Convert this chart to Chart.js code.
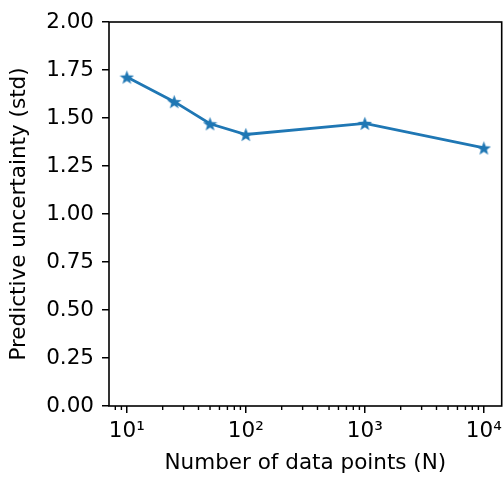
<!DOCTYPE html>
<html>
<head>
<meta charset="utf-8">
<script src="https://cdn.jsdelivr.net/npm/chart.js@4/dist/chart.umd.min.js"></script>
<style>
  html, body { margin: 0; padding: 0; background: #fff; overflow: hidden; }
  /* the layout keeps ~10px spare at the right, so the box is a bit wider than the window */
  #wrap { width: 512px; height: 482px; }
</style>
</head>
<body>
<div id="wrap"><canvas id="chart"></canvas></div>
<script>
var nPoints = [10, 25, 50, 100, 1000, 10000];
var uncertainty = [1.713, 1.585, 1.470, 1.414, 1.472, 1.344];
var xMajorTicks = [10, 100, 1000, 10000];
var xTickLabels = ['10\u00b9', '10\u00b2', '10\u00b3', '10\u2074'];

var lineColor = '#1f77b4',
  fontFamily = 'DejaVu Sans',
  fontSize = 21.5;

// filled five-point star like matplotlib's '*' marker
function makeStar(size) {
  var c = document.createElement('canvas');
  c.width = size;
  c.height = size;
  var ctx = c.getContext('2d'),
    cx = size / 2,
    cy = size / 2 + 0.7,
    outer = size / 2,
    inner = outer * 0.42;
  ctx.beginPath();
  for (var i = 0; i < 10; i += 1) {
    var r = i % 2 === 0 ? outer : inner,
      a = -Math.PI / 2 + i * Math.PI / 5;
    ctx.lineTo(cx + r * Math.cos(a), cy + r * Math.sin(a));
  }
  ctx.closePath();
  ctx.fillStyle = lineColor;
  ctx.fill();
  return c;
}

function noPad(s) {
  s.paddingLeft = 0;
  s.paddingRight = 0;
  s.paddingTop = 0;
  s.paddingBottom = 0;
}

var frameAndMinor = {
  id: 'frameAndMinor',
  afterDraw: function (chart) {
    var ctx = chart.ctx,
      a = chart.chartArea,
      xs = chart.scales.x;
    ctx.save();
    ctx.strokeStyle = '#000';
    ctx.lineWidth = 1.4;
    // minor log ticks
    for (var e = 0; e < 5; e += 1) {
      for (var m = 2; m < 10; m += 1) {
        var v = m * Math.pow(10, e);
        if (v < xs.min || v > xs.max) continue;
        var px = xs.getPixelForValue(v);
        ctx.beginPath();
        ctx.moveTo(px, a.bottom);
        ctx.lineTo(px, a.bottom + 4);
        ctx.stroke();
      }
    }
    ctx.lineWidth = 1.6;
    ctx.strokeRect(a.left, a.top, a.right - a.left, a.bottom - a.top);
    ctx.restore();
  }
};

new Chart(document.getElementById('chart'), {
  type: 'line',
  data: {
    labels: nPoints,
    datasets: [{
      data: nPoints.map(function (n, i) { return { x: n, y: uncertainty[i] }; }),
      borderColor: lineColor,
      backgroundColor: lineColor,
      borderWidth: 2.8,
      pointStyle: makeStar(15),
      pointRadius: 7.5,
      fill: false,
      tension: 0
    }]
  },
  options: {
    responsive: true,
    maintainAspectRatio: false,
    animation: false,
    layout: { padding: { top: 22, right: 1, left: 0, bottom: 0 } },
    plugins: { legend: { display: false }, tooltip: { enabled: false } },
    scales: {
      x: {
        type: 'logarithmic',
        min: Math.pow(10, 0.85),
        max: Math.pow(10, 4.15),
        afterBuildTicks: function (s) {
          s.ticks = xMajorTicks.map(function (v) { return { value: v }; });
        },
        afterFit: function (s) { s.height = 76; noPad(s); },
        border: { display: false },
        grid: { display: true, drawOnChartArea: false, drawTicks: true, tickLength: 7, color: '#000', lineWidth: 1.5 },
        ticks: {
          color: '#000',
          padding: 6,
          maxRotation: 0,
          autoSkip: false,
          font: { family: fontFamily, size: fontSize },
          callback: function (v) {
            var i = xMajorTicks.indexOf(v);
            return i >= 0 ? xTickLabels[i] : '';
          }
        },
        title: {
          display: true,
          text: 'Number of data points (N)',
          color: '#000',
          font: { family: fontFamily, size: fontSize },
          padding: { top: 0, bottom: 6 }
        }
      },
      y: {
        min: 0,
        max: 2,
        afterFit: function (s) { s.width = 109; noPad(s); },
        border: { display: false },
        grid: { display: true, drawOnChartArea: false, drawTicks: true, tickLength: 7, color: '#000', lineWidth: 1.5 },
        ticks: {
          stepSize: 0.25,
          color: '#000',
          padding: 8,
          font: { family: fontFamily, size: fontSize },
          callback: function (v) { return v.toFixed(2); }
        },
        title: {
          display: true,
          text: 'Predictive uncertainty (std)',
          color: '#000',
          font: { family: fontFamily, size: fontSize },
          padding: { top: 7, bottom: 0 }
        }
      }
    }
  },
  plugins: [frameAndMinor]
});
</script>
</body>
</html>
